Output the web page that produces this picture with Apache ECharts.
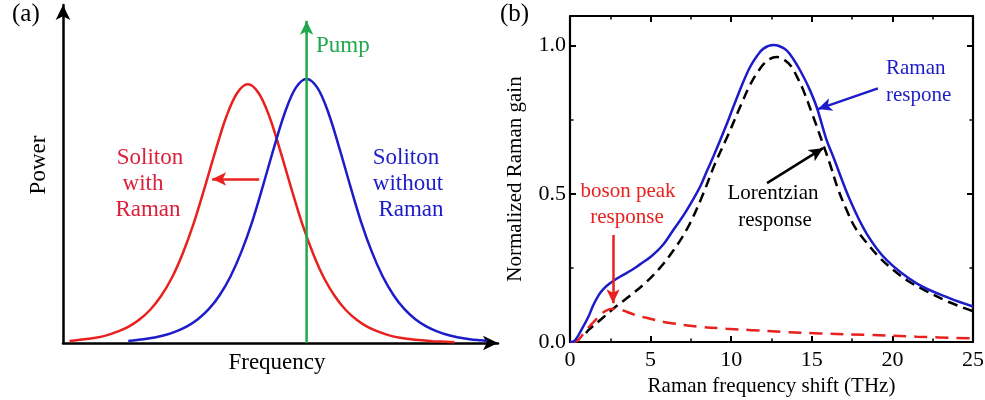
<!DOCTYPE html>
<html>
<head>
<meta charset="utf-8">
<style>
html, body { margin: 0; padding: 0; background: #fff; }
#main { width: 985px; height: 400px; }
</style>
<script src="https://cdn.jsdelivr.net/npm/echarts@6/dist/echarts.min.js"></script>
</head>
<body>
<div id="main"></div>
<script>
// (a) soliton spectra, arbitrary units
const redFreq = [0.15, 0.5, 0.75, 1.0, 1.25, 1.5, 1.75, 2.0, 2.25, 2.5, 2.75, 3.0, 3.25, 3.5, 3.75, 4.0, 4.25,
                 4.5, 4.75, 5.0, 5.25, 5.5, 5.75, 6.0, 6.25, 6.5, 6.75, 7.0, 7.25, 7.5, 7.75, 8.0, 8.25, 8.5, 9.0];
const redPower = [0.008, 0.014, 0.020, 0.029, 0.043, 0.061, 0.088, 0.125, 0.177, 0.246, 0.338, 0.451, 0.585, 0.725, 0.855, 0.946, 0.98,
                  0.946, 0.855, 0.725, 0.585, 0.451, 0.338, 0.246, 0.177, 0.125, 0.088, 0.061, 0.043, 0.029, 0.020, 0.014, 0.010, 0.007, 0.003];
const blueFreq = [1.5, 1.85, 2.1, 2.35, 2.6, 2.85, 3.1, 3.35, 3.6, 3.85, 4.1, 4.35, 4.6, 4.85, 5.1, 5.35, 5.6,
                  5.85, 6.1, 6.35, 6.6, 6.85, 7.1, 7.35, 7.6, 7.85, 8.1, 8.35, 8.6, 8.85, 9.1, 9.35, 9.6, 9.75];
const bluePower = [0.008, 0.014, 0.021, 0.030, 0.044, 0.063, 0.090, 0.128, 0.181, 0.252, 0.345, 0.460, 0.597, 0.740, 0.872, 0.966, 1.0,
                   0.966, 0.872, 0.740, 0.597, 0.460, 0.345, 0.252, 0.181, 0.128, 0.090, 0.063, 0.044, 0.030, 0.021, 0.014, 0.010, 0.008];
const pumpFreq = 5.6;
const pumpTop = 1.22;

// (b) normalized Raman gain vs frequency shift (THz)
const ramanShift = [0, 0.3, 0.7, 1.14, 1.45, 1.8, 2.1, 2.48, 3.1, 3.83, 4.34, 5.07, 5.8, 6.41, 7.05, 7.65, 8.1, 8.48, 8.9, 9.31, 9.7,
                    10.13, 10.65, 11.17, 11.6, 12.0, 12.61, 13.0, 13.44, 13.85, 14.27, 14.8, 15.3, 15.92, 16.33, 17.37, 18.4,
                    19.65, 21.5, 23.57, 25.0];
const ramanGain = [0, 0.005, 0.04, 0.085, 0.125, 0.16, 0.18, 0.198, 0.22, 0.243, 0.262, 0.29, 0.33, 0.378, 0.428, 0.482, 0.527, 0.575, 0.627, 0.68, 0.732,
                   0.793, 0.865, 0.928, 0.965, 0.99, 1.002, 0.998, 0.984, 0.955, 0.917, 0.86, 0.793, 0.681, 0.625, 0.479, 0.366,
                   0.276, 0.198, 0.147, 0.12];
const lorShift = [1.0, 1.14, 2.0, 2.79, 3.7, 4.65, 5.58, 6.62, 7.44, 8.27, 9.0, 9.82, 10.55, 11.1, 11.58, 12.2, 12.82, 13.3,
                  13.75, 14.1, 14.47, 15.09, 15.61, 16.13, 16.6, 17.16, 17.7, 18.4, 19.2, 20.06, 21.0, 22.1, 23.5, 25.0];
const lorGain = [0.03, 0.04, 0.08, 0.117, 0.155, 0.198, 0.25, 0.325, 0.40, 0.501, 0.602, 0.70, 0.793, 0.86, 0.906, 0.948, 0.962, 0.952,
                 0.928, 0.893, 0.85, 0.76, 0.681, 0.60, 0.52, 0.445, 0.385, 0.335, 0.285, 0.243, 0.205, 0.172, 0.135, 0.104];
const bosonShift = [0.2, 0.5, 0.93, 1.5, 2.17, 2.69, 3.2, 4.0, 4.86, 6.0, 7.96, 9.7, 11.27, 13.2, 15.5, 18.4, 21.5, 25.0];
const bosonGain = [0, 0.006, 0.035, 0.07, 0.104, 0.112, 0.108, 0.092, 0.08, 0.066, 0.052, 0.045, 0.04, 0.034, 0.029, 0.024, 0.018, 0.012];
const gainTicks = [0, 0.5, 1.0];

const zip = (xs, ys) => xs.map((x, i) => [x, ys[i]]);

const serif = '"Liberation Serif", "Times New Roman", serif';
const RED = '#e8211f';
const RED_TXT = '#dc1f3a';
const BLUE = '#1c1cc8';
const GREEN = '#22a84c';

const chart = echarts.init(document.getElementById('main'));

const frameAxis = {
    gridIndex: 1,
    type: 'value',
    axisLine: { onZero: false, lineStyle: { color: '#000', width: 2.2 } },
    axisTick: { inside: true, length: 6, lineStyle: { color: '#000', width: 2 } },
    minorTick: { show: true, splitNumber: 2, length: 3.5, lineStyle: { color: '#000', width: 1.5 } },
    splitLine: { show: false },
    minorSplitLine: { show: false }
};

function txt(text, x, y, color, size, align, extra) {
    return Object.assign({
        type: 'text', x: x, y: y, silent: true,
        style: {
            text: text, fill: color, font: size + 'px ' + serif,
            align: align, textAlign: align, verticalAlign: 'middle', textVerticalAlign: 'middle'
        }
    }, extra || {});
}

function arrow(color, from, to) {
    return {
        silent: true,
        symbol: ['none', 'arrow'],
        symbolSize: [10, 14],
        label: { show: false },
        lineStyle: { color: color, width: 2.5, type: 'solid' },
        data: [[{ coord: from }, { coord: to }]]
    };
}

function curve(xi, yi, xs, ys, color, dash, markLine) {
    const s = {
        type: 'line', xAxisIndex: xi, yAxisIndex: yi, data: zip(xs, ys),
        smooth: 0.35, showSymbol: false, silent: true,
        lineStyle: { color: color, width: 2.5, type: dash || 'solid' }
    };
    if (markLine) s.markLine = markLine;
    return s;
}

const option = {
    animation: false,
    backgroundColor: '#fff',
    grid: [
        { left: 63, top: 5, width: 435, height: 338, containLabel: false, outerBoundsMode: 'none' },
        { left: 570, top: 16, width: 403, height: 326, containLabel: false, outerBoundsMode: 'none' }
    ],
    xAxis: [
        {
            gridIndex: 0, type: 'value', min: 0, max: 10,
            axisLine: { lineStyle: { color: '#000', width: 2.5 }, symbol: ['none', 'arrow'], symbolSize: [11, 15] },
            axisTick: { show: false }, axisLabel: { show: false }, splitLine: { show: false }
        },
        Object.assign({}, frameAxis, {
            min: 0, max: 25, interval: 5, position: 'bottom',
            axisLabel: { color: '#000', fontSize: 22, fontFamily: serif, margin: 7 },
            name: 'Raman frequency shift (THz)', nameLocation: 'middle', nameGap: 30,
            nameTextStyle: { color: '#000', fontSize: 21, fontFamily: serif }
        }),
        Object.assign({}, frameAxis, {
            min: 0, max: 25, interval: 5, position: 'top', axisLabel: { show: false }
        })
    ],
    yAxis: [
        {
            gridIndex: 0, type: 'value', min: 0, max: 1.28,
            axisLine: { lineStyle: { color: '#000', width: 2.5 }, symbol: ['none', 'arrow'], symbolSize: [11, 15] },
            axisTick: { show: false }, axisLabel: { show: false }, splitLine: { show: false }
        },
        Object.assign({}, frameAxis, {
            min: 0, max: 1.1, interval: 0.5, position: 'left',
            axisLabel: {
                color: '#000', fontSize: 22, fontFamily: serif, margin: 4,
                formatter: v => gainTicks.some(t => Math.abs(t - v) < 1e-9) ? v.toFixed(1) : ''
            },
            name: 'Normalized Raman gain', nameLocation: 'middle', nameGap: 44,
            nameTextStyle: { color: '#000', fontSize: 21, fontFamily: serif }
        }),
        Object.assign({}, frameAxis, {
            min: 0, max: 1.1, interval: 0.5, position: 'right', axisLabel: { show: false }
        })
    ],
    series: [
        curve(0, 0, redFreq, redPower, RED, null, arrow(RED, [4.51, 0.621], [3.43, 0.621])),
        curve(0, 0, blueFreq, bluePower, BLUE),
        {
            type: 'line', xAxisIndex: 0, yAxisIndex: 0, data: [[pumpFreq, 0], [pumpFreq, pumpTop - 0.02]],
            showSymbol: false, silent: true,
            lineStyle: { color: GREEN, width: 2.5 },
            markLine: arrow(GREEN, [pumpFreq, pumpTop - 0.05], [pumpFreq, pumpTop])
        },
        curve(1, 1, lorShift, lorGain, '#000', [10, 6], arrow('#000', [12.22, 0.536], [15.7, 0.654])),
        curve(1, 1, bosonShift, bosonGain, RED, [13, 8], arrow(RED, [2.67, 0.361], [2.67, 0.131])),
        curve(1, 1, ramanShift, ramanGain, BLUE, null, arrow(BLUE, [19.1, 0.856], [15.38, 0.786]))
    ],
    graphic: [
        txt('(a)', 12, 14, '#000', 25, 'left'),
        txt('Pump', 316, 46, GREEN, 23, 'left'),
        txt('Power', 39, 165, '#000', 23, 'center', { rotation: Math.PI / 2 }),
        txt('Frequency', 277, 363, '#000', 23, 'center'),
        txt('Soliton', 150, 158, RED_TXT, 23, 'center'),
        txt('with', 143, 184, RED_TXT, 23, 'center'),
        txt('Raman', 148, 210, RED_TXT, 23, 'center'),
        txt('Soliton', 406, 158, BLUE, 23, 'center'),
        txt('without', 408, 184, BLUE, 23, 'center'),
        txt('Raman', 411, 210, BLUE, 23, 'center'),
        txt('(b)', 500, 14, '#000', 25, 'left'),
        txt('Raman', 886, 68, BLUE, 21, 'left'),
        txt('respone', 886, 95, BLUE, 21, 'left'),
        txt('Lorentzian', 773, 193, '#000', 21, 'center'),
        txt('response', 775, 220, '#000', 21, 'center'),
        txt('boson peak', 628, 191, RED, 21, 'center'),
        txt('response', 627, 217, RED, 21, 'center')
    ]
};

chart.setOption(option);
</script>
</body>
</html>
